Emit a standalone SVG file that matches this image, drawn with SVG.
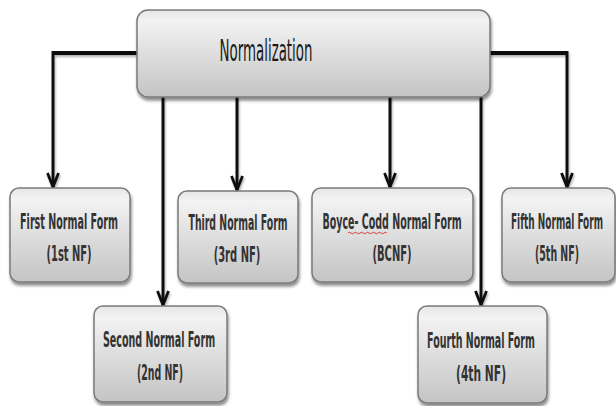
<svg xmlns="http://www.w3.org/2000/svg" width="616" height="406" viewBox="0 0 616 406">
<defs>
<linearGradient id="gBox" x1="0" y1="0" x2="0" y2="1">
<stop offset="0" stop-color="#e6e6e6"/>
<stop offset="0.12" stop-color="#f3f3f3"/>
<stop offset="0.5" stop-color="#dedede"/>
<stop offset="1" stop-color="#c4c4c4"/>
</linearGradient>
<filter id="sh" x="-10%" y="-10%" width="125%" height="130%">
<feDropShadow dx="1" dy="3" stdDeviation="1.6" flood-color="#000" flood-opacity="0.45"/>
</filter>
<filter id="lsh" x="-20%" y="-20%" width="140%" height="140%">
<feDropShadow dx="1" dy="2" stdDeviation="1" flood-color="#000" flood-opacity="0.3"/>
</filter>
<marker id="arr" viewBox="-16 -8 18 16" refX="0" refY="0" markerWidth="18" markerHeight="16" markerUnits="userSpaceOnUse" orient="auto">
<path d="M-14,-5.5 L0,0 L-14,5.5" fill="none" stroke="#111" stroke-width="2.8" stroke-linejoin="miter"/>
</marker>
<style>
.box{fill:url(#gBox);stroke:#7a7a7a;stroke-width:1.5;filter:url(#sh)}
.lbl{font-family:"DejaVu Sans Condensed","Liberation Sans Narrow","Liberation Sans",sans-serif;font-weight:bold;font-size:21px;fill:#333333;text-anchor:middle}
.title{font-family:"DejaVu Sans Condensed","Liberation Sans Narrow","Liberation Sans",sans-serif;font-size:31px;fill:#1a1a1a;text-anchor:middle}
.con{fill:none;stroke:#111;stroke-width:3;marker-end:url(#arr)}
.hcon{fill:none;stroke:#111;stroke-width:4}
</style>
</defs>
<rect width="616" height="406" fill="#ffffff"/>
<g id="connectors" filter="url(#lsh)">
<path class="hcon" d="M137,53 H53"/>
<path class="con" d="M53,51 V187"/>
<path class="hcon" d="M490,53 H567"/>
<path class="con" d="M567,51 V187"/>
<path class="con" d="M163,97 V305"/>
<path class="con" d="M237,97 V190"/>
<path class="con" d="M390,97 V187"/>
<path class="con" d="M481,97 V305"/>
</g>
<g id="normalization">
<rect class="box" x="137" y="10" width="353" height="87" rx="11" ry="11"/>
<text class="title" transform="translate(266 61) scale(0.5 1)" textLength="186" lengthAdjust="spacingAndGlyphs">Normalization</text>
</g>
<g id="first-nf">
<rect class="box" x="10" y="188" width="120" height="94" rx="9" ry="9"/>
<text class="lbl" transform="translate(69 229) scale(0.55 1)" textLength="178" lengthAdjust="spacingAndGlyphs">First Normal Form</text>
<text class="lbl" transform="translate(69 261) scale(0.55 1)" textLength="82" lengthAdjust="spacingAndGlyphs">(1st NF)</text>
</g>
<g id="second-nf">
<rect class="box" x="94" y="306" width="133" height="96" rx="9" ry="9"/>
<text class="lbl" transform="translate(159 347) scale(0.55 1)" textLength="204" lengthAdjust="spacingAndGlyphs">Second Normal Form</text>
<text class="lbl" transform="translate(160 380) scale(0.55 1)" textLength="84" lengthAdjust="spacingAndGlyphs">(2nd NF)</text>
</g>
<g id="third-nf">
<rect class="box" x="178" y="191" width="120" height="92" rx="9" ry="9"/>
<text class="lbl" transform="translate(238 230) scale(0.55 1)" textLength="180" lengthAdjust="spacingAndGlyphs">Third Normal Form</text>
<text class="lbl" transform="translate(237 262) scale(0.55 1)" textLength="85" lengthAdjust="spacingAndGlyphs">(3rd NF)</text>
</g>
<g id="bcnf">
<rect class="box" x="312" y="188" width="161" height="94" rx="9" ry="9"/>
<text class="lbl" transform="translate(392 229) scale(0.55 1)" textLength="253" lengthAdjust="spacingAndGlyphs">Boyce- Codd Normal Form</text>
<path d="M348,233 q1.5,-1.5 3,0 t3,0 t3,0 t3,0 t3,0 t3,0 t3,0 t3,0 t3,0 t3,0 t3,0 t3,0 t3,0" fill="none" stroke="#d04040" stroke-width="1"/>
<text class="lbl" transform="translate(392 261) scale(0.55 1)" textLength="71" lengthAdjust="spacingAndGlyphs">(BCNF)</text>
</g>
<g id="fourth-nf">
<rect class="box" x="418" y="306" width="129" height="97" rx="9" ry="9"/>
<text class="lbl" transform="translate(481 348) scale(0.55 1)" textLength="196" lengthAdjust="spacingAndGlyphs">Fourth Normal Form</text>
<text class="lbl" transform="translate(481 381) scale(0.55 1)" textLength="91" lengthAdjust="spacingAndGlyphs">(4th NF)</text>
</g>
<g id="fifth-nf">
<rect class="box" x="502" y="188" width="113" height="94" rx="9" ry="9"/>
<text class="lbl" transform="translate(557 229) scale(0.5 1)" textLength="184" lengthAdjust="spacingAndGlyphs">Fifth Normal Form</text>
<text class="lbl" transform="translate(557 261) scale(0.55 1)" textLength="80" lengthAdjust="spacingAndGlyphs">(5th NF)</text>
</g>
</svg>
